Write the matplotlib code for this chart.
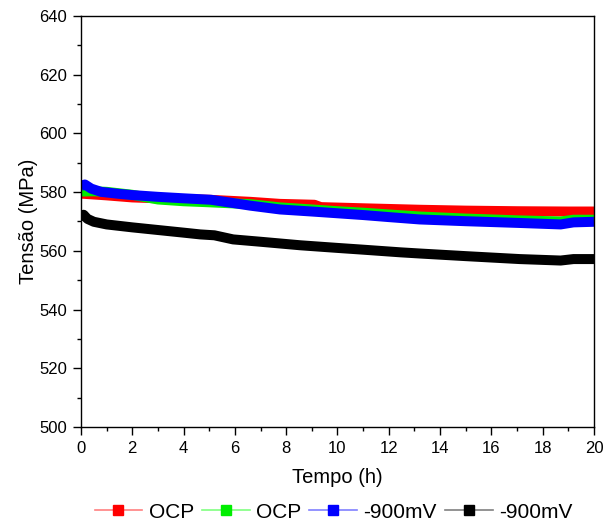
import matplotlib
matplotlib.use("Agg")
import matplotlib.pyplot as plt
from matplotlib.lines import Line2D
from matplotlib.ticker import MultipleLocator

plt.rcParams['font.family'] = ['Liberation Sans', 'DejaVu Sans']

# Stress vs time for each condition
t_ocp1 = [0, 0.5, 1, 2, 3, 4, 5, 6.6, 7.76, 9.1, 9.35, 11, 13.2, 15, 17, 19, 20]
s_ocp1 = [579.5, 579.2, 578.9, 578.2, 577.9, 577.6, 577.4, 576.7, 576.0, 575.7, 574.9, 574.5, 574.0, 573.7, 573.5, 573.4, 573.4]

t_ocp2 = [0, 0.5, 1, 2, 3, 4, 4.85, 6.6, 7.76, 9, 10, 11, 12, 13.2, 15, 17, 18.7, 19.2, 20]
s_ocp2 = [580.2, 580.3, 580.1, 579.1, 577.5, 576.9, 576.6, 575.9, 574.8, 574.1, 573.5, 573.0, 572.4, 571.7, 571.0, 570.4, 570.0, 570.6, 570.6]

t_cp1 = [0, 0.15, 0.4, 0.78, 1.5, 2, 3, 4, 5.07, 6, 6.6, 7.76, 9, 10, 11, 12, 13.2, 15, 17.1, 18.7, 19.2, 20]
s_cp1 = [582.1, 582.6, 581.2, 580.1, 579.4, 579.0, 578.4, 577.9, 577.4, 576.2, 575.4, 574.1, 573.4, 572.8, 572.2, 571.5, 570.7, 570.1, 569.5, 569.0, 569.7, 569.9]

t_cp2 = [0, 0.1, 0.25, 0.5, 1, 2, 3, 4, 4.65, 5.2, 5.93, 7, 8.55, 10, 11, 12.45, 13.2, 15, 17.1, 18.7, 19.2, 20]
s_cp2 = [572.0, 572.3, 570.9, 569.9, 569.0, 568.0, 567.1, 566.2, 565.6, 565.3, 563.9, 563.1, 561.9, 561.0, 560.4, 559.5, 559.1, 558.2, 557.2, 556.7, 557.2, 557.2]

labels = ["OCP", "OCP", "-900mV", "-900mV"]
colors = ["#ff0000", "#00ee00", "#0000ff", "#000000"]
light = ["#ff8080", "#80ff80", "#8080ff", "#808080"]

fig = plt.figure(figsize=(6.05, 5.27), dpi=100)
ax = fig.add_axes([0.1339, 0.1898, 0.8479, 0.7798])

series = [(t_ocp1, s_ocp1), (t_ocp2, s_ocp2), (t_cp1, s_cp1), (t_cp2, s_cp2)]
for (t, s), c in zip(series, colors):
    ax.plot(t, s, color=c, lw=7.2, solid_capstyle='butt', solid_joinstyle='round')

ax.set_xlim(0, 20)
ax.set_ylim(500, 640)
ax.xaxis.set_major_locator(MultipleLocator(2))
ax.xaxis.set_minor_locator(MultipleLocator(1))
ax.yaxis.set_major_locator(MultipleLocator(20))
ax.yaxis.set_minor_locator(MultipleLocator(10))
ax.tick_params(which='both', direction='out', top=False, right=False, labelsize=12, width=1)
ax.tick_params(which='major', length=6, pad=4)
ax.tick_params(which='minor', length=3)
for sp in ax.spines.values():
    sp.set_linewidth(1.0)

ax.set_xlabel("Tempo (h)", fontsize=14.5, labelpad=9)
ax.set_ylabel("Tensão (MPa)", fontsize=14.5, labelpad=1)

handles = [Line2D([0], [0], color=lc, lw=1.2, marker='s', markersize=7,
                  markerfacecolor=c, markeredgecolor=c)
           for c, lc in zip(colors, light)]
fig.legend(handles, labels, loc='center', bbox_to_anchor=(0.551, 0.028), ncol=4,
           frameon=False, fontsize=15, handlelength=2.3, handletextpad=0.3,
           columnspacing=0.38, borderaxespad=0, borderpad=0)

fig.savefig("out.png", dpi=100)
